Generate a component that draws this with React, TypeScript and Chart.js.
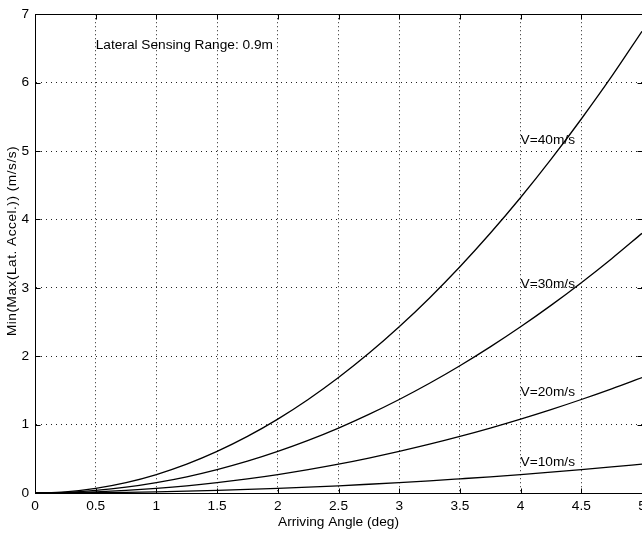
import React, { useEffect, useRef } from "react";
import { Chart, registerables } from "chart.js";

Chart.register(...registerables);

const angles = [0, 0.25, 0.5, 0.75, 1, 1.25, 1.5, 1.75, 2, 2.25, 2.5, 2.75, 3, 3.25, 3.5, 3.75, 4, 4.25, 4.5, 4.75, 5];
const v40 = [0, 0.017, 0.068, 0.152, 0.27, 0.422, 0.608, 0.827, 1.08, 1.367, 1.688, 2.042, 2.43, 2.852, 3.308, 3.797, 4.32, 4.877, 5.468, 6.09, 6.75];
const v30 = [0, 0.0095, 0.038, 0.085, 0.152, 0.237, 0.342, 0.465, 0.608, 0.769, 0.949, 1.149, 1.367, 1.604, 1.86, 2.136, 2.43, 2.743, 3.075, 3.426, 3.797];
const v20 = [0, 0.0042, 0.0169, 0.038, 0.0675, 0.105, 0.152, 0.207, 0.27, 0.342, 0.422, 0.511, 0.608, 0.713, 0.827, 0.949, 1.08, 1.219, 1.367, 1.523, 1.688];
const v10 = [0, 0.001, 0.0042, 0.0095, 0.0169, 0.026, 0.038, 0.052, 0.0675, 0.085, 0.105, 0.128, 0.152, 0.178, 0.207, 0.237, 0.27, 0.305, 0.342, 0.381, 0.422];

const seriesNames = ["V=40m/s", "V=30m/s", "V=20m/s", "V=10m/s"];
const seriesValues = [v40, v30, v20, v10];
// annotation anchor positions in data units (x, y)
const labelX = [4.0, 4.0, 4.0, 4.0];
const labelY = [5.16, 3.05, 1.47, 0.45];
const noteText = "Lateral Sensing Range: 0.9m";
const noteX = 0.5;
const noteY = 6.55;

const xTitle = "Arriving Angle (deg)";
const yTitle = "Min(Max(Lat. Accel.)) (m/s/s)";

const FONT = "'Liberation Sans', Arial, Helvetica, sans-serif";
const FS = 13.7;

const framePlugin = {
  id: "frame",
  afterDraw(chart: any) {
    const { ctx, chartArea } = chart;
    const xs = chart.scales.x;
    const ys = chart.scales.y;
    const L = Math.round(chartArea.left) + 0.5;
    const R = Math.round(chartArea.right) + 0.5;
    const T = Math.round(chartArea.top) + 0.5;
    const B = Math.round(chartArea.bottom) + 0.5;
    ctx.save();
    ctx.strokeStyle = "#000";
    ctx.lineWidth = 1;
    ctx.setLineDash([]);
    ctx.beginPath();
    ctx.moveTo(L, T);
    ctx.lineTo(R, T);
    ctx.moveTo(L, B);
    ctx.lineTo(R, B);
    ctx.moveTo(L, T);
    ctx.lineTo(L, B);
    ctx.moveTo(R, T);
    ctx.lineTo(R, B);
    ctx.stroke();
    const tl = 5;
    ctx.beginPath();
    xs.ticks.forEach((t: any) => {
      const px = Math.round(xs.getPixelForValue(t.value)) + 0.5;
      ctx.moveTo(px, B);
      ctx.lineTo(px, B - tl);
      ctx.moveTo(px, T);
      ctx.lineTo(px, T + tl);
    });
    ys.ticks.forEach((t: any) => {
      const py = Math.round(ys.getPixelForValue(t.value)) + 0.5;
      ctx.moveTo(L, py);
      ctx.lineTo(L + tl, py);
      ctx.moveTo(R, py);
      ctx.lineTo(R - tl, py);
    });
    ctx.stroke();
    ctx.fillStyle = "#000";
    ctx.font = FS + "px " + FONT;
    ctx.textAlign = "left";
    ctx.textBaseline = "middle";
    seriesNames.forEach((n, i) => {
      ctx.fillText(n, xs.getPixelForValue(labelX[i]), ys.getPixelForValue(labelY[i]));
    });
    ctx.fillText(noteText, xs.getPixelForValue(noteX), ys.getPixelForValue(noteY));
    // y-axis title
    ctx.save();
    ctx.translate(12, 241);
    ctx.rotate(-Math.PI / 2);
    ctx.textAlign = "center";
    ctx.textBaseline = "middle";
    try { (ctx as any).letterSpacing = "0.5px"; } catch (e) {}
    ctx.fillText(yTitle, 0, 0);
    ctx.restore();
    ctx.restore();
  },
};

const fmt = (v: any) => String(Number(v));

export default function App() {
  const ref = useRef<HTMLCanvasElement>(null);
  useEffect(() => {
    if (!ref.current) return;
    const chart = new Chart(ref.current, {
      type: "line",
      data: {
        datasets: seriesNames.map((n, i) => ({
          label: n,
          data: angles.map((a, j) => ({ x: a, y: seriesValues[i][j] })),
          borderColor: "#000",
          borderWidth: 1.3,
          pointRadius: 0,
          cubicInterpolationMode: "monotone" as const,
          fill: false,
        })),
      },
      plugins: [framePlugin],
      options: {
        animation: false,
        responsive: false,
        devicePixelRatio: 1,
        layout: { padding: { top: 13, right: 18, left: 0, bottom: 0 } },
        plugins: { legend: { display: false }, tooltip: { enabled: false } },
        scales: {
          x: {
            type: "linear",
            min: 0,
            max: 5,
            ticks: { stepSize: 0.5, color: "#000", font: { family: FONT, size: FS }, padding: 5, maxRotation: 0, callback: fmt },
            grid: { color: "#222", drawTicks: false, lineWidth: 1 },
            border: { display: true, color: "#000", dash: [1, 3] },
            title: { display: true, text: xTitle, color: "#000", font: { family: FONT, size: FS }, padding: { top: 0, bottom: 4 } },
            afterFit: (s: any) => { s.height = 41; },
          },
          y: {
            type: "linear",
            min: 0,
            max: 7,
            ticks: { stepSize: 1, color: "#000", font: { family: FONT, size: FS }, padding: 6, callback: fmt },
            grid: { color: "#222", drawTicks: false, lineWidth: 1 },
            border: { display: true, color: "#000", dash: [1, 4] },
            title: { display: false },
            afterFit: (s: any) => { s.width = 35; },
          },
        },
      },
    } as any);
    return () => chart.destroy();
  }, []);
  return (
    <div style={{ position: "fixed", left: 0, top: 0, width: 642, height: 534, overflow: "hidden", background: "#fff" }}>
      <canvas ref={ref} width={660} height={534} style={{ display: "block" }} />
    </div>
  );
}
